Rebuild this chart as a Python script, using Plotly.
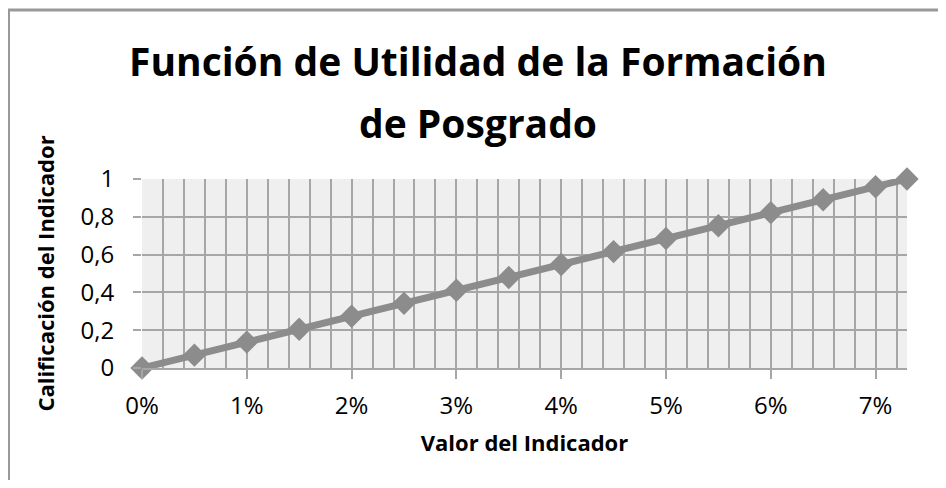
import plotly.graph_objects as go

# indicator value (fraction) and its score
valor = [0, 0.005, 0.01, 0.015, 0.02, 0.025, 0.03, 0.035, 0.04, 0.045,
         0.05, 0.055, 0.06, 0.065, 0.07, 0.073]
calificacion = [0, 0.068, 0.137, 0.205, 0.274, 0.342, 0.411, 0.479, 0.548,
                0.616, 0.685, 0.753, 0.822, 0.890, 0.959, 1]

titulo = ["Función de Utilidad de la Formación", "de Posgrado"]

GRIS = "#8c8c8c"
GRID = "#a6a6a6"
FONT = "Open Sans"

fig = go.Figure()
fig.add_trace(go.Scatter(
    x=valor, y=calificacion, mode="lines+markers",
    line=dict(color=GRIS, width=7),
    marker=dict(symbol="diamond", size=18, color=GRIS),
    cliponaxis=False, showlegend=False,
))

# the page body has an 8px margin, so the figure is 16px smaller than the window
OFF = 8
W, H = 930, 472
L, R, T, B = 134, 31, 171, 112
pw, ph = W - L - R, H - T - B

# helpers: window pixel -> paper coords
def px_x(p):
    return (p - OFF - L) / pw

def px_y(p):
    return (H - B - (p - OFF)) / ph

fig.update_layout(
    width=W, height=H,
    margin=dict(l=L, r=R, t=T, b=B),
    paper_bgcolor="white", plot_bgcolor="#efefef",
    separators=", ",
    font=dict(family=FONT, size=24, color="black"),
    xaxis=dict(
        range=[0, 0.073], tick0=0, dtick=0.01, tickformat=".0%",
        showgrid=True, gridcolor=GRID, gridwidth=1.5,
        minor=dict(dtick=0.002, showgrid=True, gridcolor=GRID, gridwidth=1.5),
        ticks="outside", ticklen=9, tickcolor=GRID, tickwidth=1.5,
        showline=True, linecolor=GRID, linewidth=2,
        zeroline=False, ticklabelstandoff=6,
        title=dict(text="<b>Valor del Indicador</b>", font=dict(size=22), standoff=16),
    ),
    yaxis=dict(
        range=[0, 1], dtick=0.2,
        showgrid=True, gridcolor=GRID, gridwidth=1.5,
        ticks="outside", ticklen=8, tickcolor=GRID, tickwidth=1.5,
        zeroline=False, showline=False, ticklabelstandoff=14,
        title=dict(text="<b>Calificación del Indicador</b>", font=dict(size=22), standoff=19),
    ),
)

for i, linea in enumerate(titulo):
    fig.add_annotation(
        text="<b>" + linea + "</b>", showarrow=False,
        xref="paper", yref="paper",
        x=px_x(478), y=px_y([60, 122][i]),
        xanchor="center", yanchor="middle",
        font=dict(family=FONT, size=39, color="black"),
    )

# chart border (top and left edges visible)
fig.add_shape(type="line", xref="paper", yref="paper",
              x0=px_x(8), x1=px_x(960), y0=px_y(10), y1=px_y(10),
              line=dict(color="#999999", width=3))
fig.add_shape(type="line", xref="paper", yref="paper",
              x0=px_x(8), x1=px_x(8), y0=px_y(10), y1=px_y(500),
              line=dict(color="#999999", width=4))

fig.write_html("out.html")
